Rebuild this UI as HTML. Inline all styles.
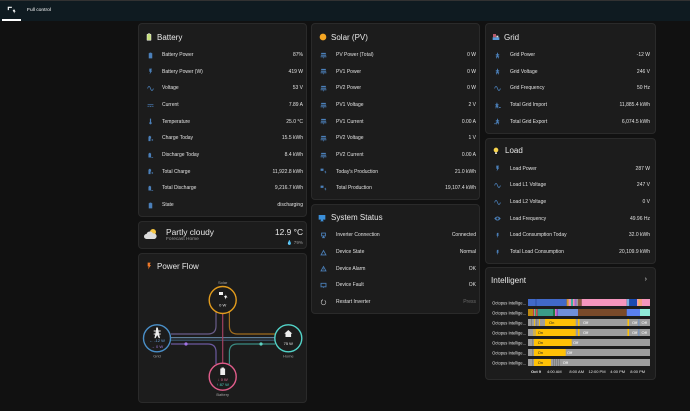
<!DOCTYPE html>
<html><head><meta charset="utf-8"><style>
*{margin:0;padding:0;box-sizing:border-box}
body{width:690px;height:411px;background:#111111;position:relative;overflow:hidden;font-family:"Liberation Sans",sans-serif;color:#e1e1e1}
.top{position:absolute;left:0;top:0;width:690px;height:21px;background:#0f1b21;border-top:1px solid #323232}
.card{position:absolute;background:#1c1c1c;border:1px solid #2a2a2a;border-radius:4px}
.ttl{position:absolute;font-size:8px;line-height:10px;color:#e8e8e8;white-space:nowrap}
.tic{position:absolute;width:8px;height:8px}
.rows{position:absolute;left:0;right:0}
.row{position:relative;height:16.67px;font-size:5px;white-space:nowrap}
.ic{position:absolute;top:4.8px;width:7px;height:7px;left:calc(var(--ix) - 3.5px)}
.lb{position:absolute;left:var(--lx);top:0;line-height:16.67px}
.v{position:absolute;right:var(--vr);top:0;line-height:16.67px}
.ic path{fill:#4b80ba}
</style></head><body>

<div class="top">
  <svg style="position:absolute;left:7px;top:5px" width="9" height="9" viewBox="0 0 24 24"><path style="fill:#fff" d="M2 2h11v3H5v6H2zM15 11h3V7l5 8h-3v5z"/></svg>
  <div style="position:absolute;left:27px;top:6px;font-size:4.9px;line-height:8px;color:#fff">Full control</div>
  <div style="position:absolute;left:2px;top:18px;width:19px;height:1.5px;background:#fff"></div>
</div>

<!-- Battery -->
<div class="card" style="left:138px;top:23px;width:169px;height:194px;--ix:11px;--lx:23px;--vr:3px">
  <svg class="tic" style="left:6px;top:9px" viewBox="0 0 24 24"><path style="fill:#c6e07a;stroke:#eee;stroke-width:1.5" d="M9 2h6v2h3v18H6V4h3z"/></svg>
  <div class="ttl" style="left:18px;top:8.5px">Battery</div>
  <div class="rows" style="top:23px">
    <div class="row"><svg class="ic" viewBox="0 0 24 24"><path d="M9 2h6v2h3v18H6V4h3z"/></svg><span class="lb">Battery Power</span><span class="v">87%</span></div>
    <div class="row"><svg class="ic" viewBox="0 0 24 24"><path d="M8 2h9l-3 7h4L9 22l2-9H8z"/></svg><span class="lb">Battery Power (W)</span><span class="v">419 W</span></div>
    <div class="row"><svg class="ic" viewBox="0 0 24 24"><path style="fill:none;stroke:#4b80ba;stroke-width:2.5" d="M2 12c3-9 7-9 10 0s7 9 10 0"/></svg><span class="lb">Voltage</span><span class="v">53 V</span></div>
    <div class="row"><svg class="ic" viewBox="0 0 24 24"><path d="M2 8h20v2.5H2zM2 14h4v2.5H2zM9 14h6v2.5H9zM18 14h4v2.5h-4z"/></svg><span class="lb">Current</span><span class="v">7.89 A</span></div>
    <div class="row"><svg class="ic" viewBox="0 0 24 24"><path d="M10 2h4v12a4 4 0 1 1-4 0z"/></svg><span class="lb">Temperature</span><span class="v">25.0 °C</span></div>
    <div class="row"><svg class="ic" viewBox="0 0 24 24"><path d="M7 3h5v2h2v7h-2v9H5V5h2zM15 16h2v-2h2v2h2v2h-2v2h-2v-2h-2z"/></svg><span class="lb">Charge Today</span><span class="v">15.5 kWh</span></div>
    <div class="row"><svg class="ic" viewBox="0 0 24 24"><path d="M7 3h5v2h2v14H5V5h2zM15 18h6v2h-6z"/></svg><span class="lb">Discharge Today</span><span class="v">8.4 kWh</span></div>
    <div class="row"><svg class="ic" viewBox="0 0 24 24"><path d="M7 3h5v2h2v7h-2v9H5V5h2zM15 16h2v-2h2v2h2v2h-2v2h-2v-2h-2z"/></svg><span class="lb">Total Charge</span><span class="v">11,922.8 kWh</span></div>
    <div class="row"><svg class="ic" viewBox="0 0 24 24"><path d="M7 3h5v2h2v14H5V5h2zM15 18h6v2h-6z"/></svg><span class="lb">Total Discharge</span><span class="v">9,216.7 kWh</span></div>
    <div class="row"><svg class="ic" viewBox="0 0 24 24"><path d="M9 2h6v2h3v18H6V4h3z"/></svg><span class="lb">State</span><span class="v">discharging</span></div>
  </div>
</div>

<!-- Weather -->
<div class="card" style="left:138px;top:221px;width:169px;height:28px">
  <svg style="position:absolute;left:4px;top:6px" width="15" height="13" viewBox="0 0 30 26"><circle cx="20" cy="8" r="6" fill="#f5c542"/><path style="fill:#dcdcdc" d="M7 22a5 5 0 0 1 0-10 7 7 0 0 1 13-1 5.5 5.5 0 0 1 3 11z"/></svg>
  <div style="position:absolute;left:27px;top:5px;font-size:8.4px;line-height:10px;color:#e8e8e8">Partly cloudy</div>
  <div style="position:absolute;left:27px;top:14.5px;font-size:4.8px;line-height:6px;color:#9a9a9a">Forecast Home</div>
  <div style="position:absolute;right:3px;top:5px;font-size:8.4px;line-height:10px;color:#e8e8e8">12.9 °C</div>
  <div style="position:absolute;right:3px;top:17.5px;font-size:4.6px;line-height:6px;color:#9a9a9a">💧 79%</div>
</div>

<!-- Power Flow -->
<div class="card" style="left:138px;top:253px;width:169px;height:150px">
  <svg class="tic" style="left:6px;top:8px" viewBox="0 0 24 24"><path style="fill:#f07a2a" d="M8 2h9l-3 7h4L9 22l2-9H8z"/></svg>
  <div class="ttl" style="left:18px;top:7.5px">Power Flow</div>
</div>

<!-- Solar -->
<div class="card" style="left:311px;top:23px;width:169px;height:177px;--ix:11.7px;--lx:24px;--vr:3px">
  <svg class="tic" style="left:7px;top:9px" viewBox="0 0 24 24"><circle cx="12" cy="12" r="10" fill="#f5a623"/></svg>
  <div class="ttl" style="left:19px;top:8.5px">Solar (PV)</div>
  <div class="rows" style="top:23px">
    <div class="row"><svg class="ic" viewBox="0 0 24 24"><path d="M4 3h16v4H4zM3 9h18v4H3zM2 15h20v3H2zM11 18h2v4h-2z"/></svg><span class="lb">PV Power (Total)</span><span class="v">0 W</span></div>
    <div class="row"><svg class="ic" viewBox="0 0 24 24"><path d="M4 3h16v4H4zM3 9h18v4H3zM2 15h20v3H2zM11 18h2v4h-2z"/></svg><span class="lb">PV1 Power</span><span class="v">0 W</span></div>
    <div class="row"><svg class="ic" viewBox="0 0 24 24"><path d="M4 3h16v4H4zM3 9h18v4H3zM2 15h20v3H2zM11 18h2v4h-2z"/></svg><span class="lb">PV2 Power</span><span class="v">0 W</span></div>
    <div class="row"><svg class="ic" viewBox="0 0 24 24"><path d="M4 3h16v4H4zM3 9h18v4H3zM2 15h20v3H2zM11 18h2v4h-2z"/></svg><span class="lb">PV1 Voltage</span><span class="v">2 V</span></div>
    <div class="row"><svg class="ic" viewBox="0 0 24 24"><path d="M4 3h16v4H4zM3 9h18v4H3zM2 15h20v3H2zM11 18h2v4h-2z"/></svg><span class="lb">PV1 Current</span><span class="v">0.00 A</span></div>
    <div class="row"><svg class="ic" viewBox="0 0 24 24"><path d="M4 3h16v4H4zM3 9h18v4H3zM2 15h20v3H2zM11 18h2v4h-2z"/></svg><span class="lb">PV2 Voltage</span><span class="v">1 V</span></div>
    <div class="row"><svg class="ic" viewBox="0 0 24 24"><path d="M4 3h16v4H4zM3 9h18v4H3zM2 15h20v3H2zM11 18h2v4h-2z"/></svg><span class="lb">PV2 Current</span><span class="v">0.00 A</span></div>
    <div class="row"><svg class="ic" viewBox="0 0 24 24"><path d="M2 2h10v8H2zM15 12h3V8l4 7h-3v5z"/></svg><span class="lb">Today's Production</span><span class="v">21.0 kWh</span></div>
    <div class="row"><svg class="ic" viewBox="0 0 24 24"><path d="M2 2h10v8H2zM15 12h3V8l4 7h-3v5z"/></svg><span class="lb">Total Production</span><span class="v">19,107.4 kWh</span></div>
  </div>
</div>

<!-- System Status -->
<div class="card" style="left:311px;top:204px;width:169px;height:110px;--ix:11.7px;--lx:24px;--vr:3px">
  <svg class="tic" style="left:6px;top:9px" viewBox="0 0 24 24"><path style="fill:#3b8fd9" d="M2 3h20v14H2zM9 17h6v3h2v2H7v-2h2z"/></svg>
  <div class="ttl" style="left:19px;top:8px">System Status</div>
  <div class="rows" style="top:22.3px">
    <div class="row"><svg class="ic" viewBox="0 0 24 24"><path d="M4 2h16v13H4zM7 5v7h10V5zM10 15h4v3h3v3H7v-3h3z"/></svg><span class="lb">Inverter Connection</span><span class="v">Connected</span></div>
    <div class="row"><svg class="ic" viewBox="0 0 24 24"><path fill-rule="evenodd" d="M12 2L1 22h22zM12 8l6 11H6z"/></svg><span class="lb">Device State</span><span class="v">Normal</span></div>
    <div class="row"><svg class="ic" viewBox="0 0 24 24"><path fill-rule="evenodd" d="M12 2L1 22h22zM12 8l6 11H6zM11 11h2v5h-2z"/></svg><span class="lb">Device Alarm</span><span class="v">OK</span></div>
    <div class="row"><svg class="ic" viewBox="0 0 24 24"><path fill-rule="evenodd" d="M2 3h20v15h-8l-2 3-2-3H2zM5 6v9h14V6z"/></svg><span class="lb">Device Fault</span><span class="v">OK</span></div>
    <div class="row"><svg class="ic" viewBox="0 0 24 24"><path style="fill:none;stroke:#bdbdbd;stroke-width:2.2" d="M16 5a8 8 0 1 1-8 0M8 5V1M8 5H4"/></svg><span class="lb">Restart Inverter</span><span class="v" style="color:#6a6a6a">Press</span></div>
  </div>
</div>

<!-- Grid -->
<div class="card" style="left:485px;top:23px;width:171px;height:111px;--ix:11.7px;--lx:24px;--vr:5px">
  <svg class="tic" style="left:6px;top:9px" viewBox="0 0 24 24"><path style="fill:#b85a6a" d="M3 3h9v10H3z"/><path style="fill:#5a9ad8" d="M2 13h20v8H2z"/><path style="fill:#ddd" d="M13 8h6v5h-6z"/></svg>
  <div class="ttl" style="left:18px;top:8.5px">Grid</div>
  <div class="rows" style="top:23px">
    <div class="row"><svg class="ic" viewBox="0 0 24 24"><path d="M11 2h2l1 5h4v2h-3.6l.8 4H18v2h-2.4l1.4 7h-2.2L12 16l-2.8 6H7l1.4-7H6v-2h2.8l.8-4H6V7h4z"/></svg><span class="lb">Grid Power</span><span class="v">-12 W</span></div>
    <div class="row"><svg class="ic" viewBox="0 0 24 24"><path d="M11 2h2l1 5h4v2h-3.6l.8 4H18v2h-2.4l1.4 7h-2.2L12 16l-2.8 6H7l1.4-7H6v-2h2.8l.8-4H6V7h4z"/></svg><span class="lb">Grid Voltage</span><span class="v">246 V</span></div>
    <div class="row"><svg class="ic" viewBox="0 0 24 24"><path style="fill:none;stroke:#4b80ba;stroke-width:2.5" d="M2 12c3-9 7-9 10 0s7 9 10 0"/></svg><span class="lb">Grid Frequency</span><span class="v">50 Hz</span></div>
    <div class="row"><svg class="ic" viewBox="0 0 24 24"><path d="M9 2h2l1 5h4v2h-3.6l.8 4H16v2h-2.4l1.4 7h-2.2L10 16l-2.8 6H5l1.4-7H4v-2h2.8l.8-4H4V7h4zM17 17h6v3h-6z"/></svg><span class="lb">Total Grid Import</span><span class="v">11,885.4 kWh</span></div>
    <div class="row"><svg class="ic" viewBox="0 0 24 24"><path d="M11 2h2l1 5h4v2h-3.6l.8 4H18v2h-2.4l1.4 7h-2.2L12 16l-2.8 6H7l1.4-7H6v-2h2.8l.8-4H6V7h4zM1 18h5v3H1z"/></svg><span class="lb">Total Grid Export</span><span class="v">6,074.5 kWh</span></div>
  </div>
</div>

<!-- Load -->
<div class="card" style="left:485px;top:138px;width:171px;height:126px;--ix:11.7px;--lx:24px;--vr:5px">
  <svg class="tic" style="left:6px;top:7.5px" viewBox="0 0 24 24"><circle cx="12" cy="9" r="7" fill="#f8d44c"/><path style="fill:#ccc" d="M9 16h6v5H9z"/></svg>
  <div class="ttl" style="left:19px;top:6.5px">Load</div>
  <div class="rows" style="top:21.7px">
    <div class="row"><svg class="ic" viewBox="0 0 24 24"><path d="M8 2h9l-3 7h4L9 22l2-9H8z"/></svg><span class="lb">Load Power</span><span class="v">287 W</span></div>
    <div class="row"><svg class="ic" viewBox="0 0 24 24"><path style="fill:none;stroke:#4b80ba;stroke-width:2.5" d="M2 12c3-9 7-9 10 0s7 9 10 0"/></svg><span class="lb">Load L1 Voltage</span><span class="v">247 V</span></div>
    <div class="row"><svg class="ic" viewBox="0 0 24 24"><path style="fill:none;stroke:#4b80ba;stroke-width:2.5" d="M2 12c3-9 7-9 10 0s7 9 10 0"/></svg><span class="lb">Load L2 Voltage</span><span class="v">0 V</span></div>
    <div class="row"><svg class="ic" viewBox="0 0 24 24"><path fill-rule="evenodd" d="M12 5C6 5 1 12 1 12s5 7 11 7 11-7 11-7-5-7-11-7zm0 11a4 4 0 1 1 0-8 4 4 0 0 1 0 8z"/></svg><span class="lb">Load Frequency</span><span class="v">49.96 Hz</span></div>
    <div class="row"><svg class="ic" viewBox="0 0 24 24"><path d="M10 3h6l-2 6h3l-7 12 1.5-8H9z"/></svg><span class="lb">Load Consumption Today</span><span class="v">32.0 kWh</span></div>
    <div class="row"><svg class="ic" viewBox="0 0 24 24"><path d="M10 3h6l-2 6h3l-7 12 1.5-8H9z"/></svg><span class="lb">Total Load Consumption</span><span class="v">20,109.9 kWh</span></div>
  </div>
</div>

<!-- Intelligent -->
<div class="card" style="left:485px;top:267px;width:171px;height:113px">
  <div class="ttl" style="left:5px;top:7.5px;font-size:8.2px">Intelligent</div>
  <div style="position:absolute;right:8px;top:7px;font-size:7px;line-height:10px;color:#ddd">›</div>
</div>

<svg style="position:absolute;left:0;top:0" width="690" height="411" viewBox="0 0 690 411" font-family="Liberation Sans, sans-serif">
  <!-- power flow lines -->
  <g fill="none" stroke-width="1.2">
    <path d="M216 312V326Q216 334 208 334H171" stroke="#6a5d8a"/>
    <path d="M229.4 312V326Q229.4 334 237.4 334H275" stroke="#a06c1e"/>
    <path d="M171 337.6H274.5" stroke="#5e7d98"/>
    <path d="M171 340.2H274.5" stroke="#3c5a72"/>
    <path d="M222.7 314V362.7" stroke="#a2405f"/>
    <path d="M171 344H208Q216 344 216 352V364" stroke="#6c5aa0"/>
    <path d="M229.4 364V352Q229.4 344 237.4 344H275" stroke="#3a8a82"/>
  </g>
  <circle cx="186" cy="344" r="1.6" fill="#a374e6"/>
  <circle cx="261" cy="344" r="1.6" fill="#5fd4c4"/>
  <g stroke-width="1.4" fill="#1c1c1c">
    <circle cx="222.7" cy="300" r="13.5" stroke="#e39c1c"/>
    <circle cx="157" cy="338.3" r="13.5" stroke="#4a8fc8"/>
    <circle cx="288.3" cy="338.3" r="13.5" stroke="#52d3c8"/>
    <circle cx="222.7" cy="376.7" r="13.5" stroke="#e05c8a"/>
  </g>
  <g font-size="4" text-anchor="middle">
    <text x="222.7" y="283.8" fill="#a0a0a0">Solar</text>
    <text x="157" y="357.5" fill="#a0a0a0">Grid</text>
    <text x="288.3" y="357.5" fill="#a0a0a0">Home</text>
    <text x="222.7" y="395.8" fill="#a0a0a0">Battery</text>
    <text x="222.7" y="306.6" fill="#e8e8e8">0 W</text>
    <text x="157" y="341.8" fill="#6aa4e0">← -12 W</text>
    <text x="157" y="347.8" fill="#a07ee0">→ 0 W</text>
    <text x="288.3" y="345.2" fill="#e8e8e8">75 W</text>
    <text x="222.7" y="380.8" fill="#e46a96">↓ 0 W</text>
    <text x="222.7" y="386.2" fill="#4fd0c0">↑ 87 W</text>
  </g>
  <!-- flow icons -->
  <path style="fill:#eee" d="M219 292h4v3h-4zM224 296h1.5v-1.5l2 3h-1.5v2z"/>
  <path style="fill:#eee" d="M156.2 327.5h1.6l.6 3h2.3v1h-2.1l.4 2h1.7v1h-1.5l.8 3.6h-1.2l-1.6-3-1.6 3h-1.2l.8-3.6h-1.5v-1h1.7l.4-2h-2.1v-1h2.3z"/>
  <path style="fill:#eee" d="M288.3 330l4 3.6h-1.2v3.4h-5.6v-3.4h-1.2z"/>
  <path style="fill:#eee" d="M221.5 367.5h2.4v1h1.2v6.5h-4.8v-6.5h1.2z"/>

  <!-- timeline -->
  <g font-size="4.1" fill="#e0e0e0" text-anchor="end">
    <text x="526" y="304.5">Octopus Intellige...</text>
    <text x="526" y="314.5">Octopus Intellige...</text>
    <text x="526" y="324.5">Octopus Intellige...</text>
    <text x="526" y="334.5">Octopus Intellige...</text>
    <text x="526" y="344.5">Octopus Intellige...</text>
    <text x="526" y="354.5">Octopus Intellige...</text>
    <text x="526" y="364.5">Octopus Intellige...</text>
  </g>
  <!-- row1 -->
  <g>
    <rect x="528" y="299" width="38.7" height="7" fill="#4169c8"/>
    <rect x="535.6" y="299" width="0.8" height="7" fill="#2a4a9a"/>
    <rect x="566.7" y="299" width="1" height="7" fill="#e89a30"/>
    <rect x="567.7" y="299" width="1" height="7" fill="#f0c040"/>
    <rect x="568.7" y="299" width="2.3" height="7" fill="#f48fb1"/>
    <rect x="571" y="299" width="2" height="7" fill="#40b0a0"/>
    <rect x="573" y="299" width="1.5" height="7" fill="#f48fb1"/>
    <rect x="574.5" y="299" width="2" height="7" fill="#a070d0"/>
    <rect x="576.5" y="299" width="1.5" height="7" fill="#9e9e9e"/>
    <rect x="578" y="299" width="3.7" height="7" fill="#8b5a40"/>
    <rect x="581.7" y="299" width="45" height="7" fill="#f596be"/>
    <rect x="626.7" y="299" width="2.6" height="7" fill="#7aaee0"/>
    <rect x="629.3" y="299" width="7.7" height="7" fill="#1a4ab0"/>
    <rect x="637" y="299" width="1.5" height="7" fill="#f596be"/>
    <rect x="638.5" y="299" width="1" height="7" fill="#f0c040"/>
    <rect x="639.5" y="299" width="2.5" height="7" fill="#f4a080"/>
    <rect x="642" y="299" width="8" height="7" fill="#f596be"/>
  </g>
  <!-- row2 -->
  <g>
    <rect x="528" y="309" width="5" height="7" fill="#c08a10"/>
    <rect x="533" y="309" width="1" height="7" fill="#c04040"/>
    <rect x="534" y="309" width="1" height="7" fill="#9e9e9e"/>
    <rect x="535" y="309" width="1" height="7" fill="#40a060"/>
    <rect x="536" y="309" width="1.7" height="7" fill="#d05050"/>
    <rect x="537.7" y="309" width="15.6" height="7" fill="#3a9c88"/>
    <rect x="553.3" y="309" width="1.7" height="7" fill="#1a7a40"/>
    <rect x="555" y="309" width="1.5" height="7" fill="#e070c0"/>
    <rect x="556.5" y="309" width="1.5" height="7" fill="#8050c0"/>
    <rect x="558" y="309" width="20" height="7" fill="#7090d8"/>
    <rect x="578" y="309" width="48.7" height="7" fill="#7a4a2a"/>
    <rect x="626.7" y="309" width="13.3" height="7" fill="#5a80f0"/>
    <rect x="640" y="309" width="10" height="7" fill="#90ecd8"/>
  </g>
  <!-- rows 3-7 base -->
  <g fill="#9e9e9e">
    <rect x="528" y="319" width="122" height="7"/>
    <rect x="528" y="329" width="122" height="7"/>
    <rect x="528" y="339" width="122" height="7"/>
    <rect x="528" y="349" width="122" height="7"/>
    <rect x="528" y="359" width="122" height="7"/>
  </g>
  <g fill="#ffc107">
    <rect x="534" y="319" width="0.8" height="7"/>
    <rect x="539" y="319" width="0.8" height="7"/>
    <rect x="545" y="319" width="30.7" height="7"/>
    <rect x="578" y="319" width="1.5" height="7"/>
    <rect x="627.5" y="319" width="1.5" height="7"/>
    <rect x="533.5" y="329" width="1" height="7"/>
    <rect x="535.5" y="329" width="40.2" height="7"/>
    <rect x="578" y="329" width="1.5" height="7"/>
    <rect x="627.5" y="329" width="1.5" height="7"/>
    <rect x="534" y="339" width="37.7" height="7"/>
    <rect x="534" y="349" width="31.7" height="7"/>
    <rect x="534" y="359" width="17" height="7"/>
  </g>
  <g fill="#707070">
    <rect x="531" y="319" width="0.6" height="7"/>
    <rect x="536.5" y="319" width="0.6" height="7"/>
    <rect x="532.5" y="339" width="0.6" height="7"/>
    <rect x="532.5" y="349" width="0.6" height="7"/>
    <rect x="532.5" y="359" width="0.6" height="7"/>
    <rect x="553" y="359" width="0.6" height="7"/>
    <rect x="555" y="359" width="0.6" height="7"/>
    <rect x="557" y="359" width="0.6" height="7"/>
    <rect x="559" y="359" width="0.6" height="7"/>
  </g>
  <rect x="638.5" y="319" width="0.8" height="7" fill="#5a8ad0"/>
  <rect x="638.5" y="329" width="0.8" height="7" fill="#5a8ad0"/>
  <g font-size="4">
    <text x="549" y="324.2" fill="#222">On</text>
    <text x="537.7" y="334.2" fill="#222">On</text>
    <text x="537.7" y="344.2" fill="#222">On</text>
    <text x="537.7" y="354.2" fill="#222">On</text>
    <text x="537.7" y="364.2" fill="#222">On</text>
    <g fill="#fff">
      <text x="583" y="324.2">Off</text><text x="632" y="324.2">Off</text><text x="641.5" y="324.2">Off</text>
      <text x="583" y="334.2">Off</text><text x="632" y="334.2">Off</text><text x="641.5" y="334.2">Off</text>
      <text x="573" y="344.2">Off</text>
      <text x="567" y="354.2">Off</text>
      <text x="562.7" y="364.2">Off</text>
    </g>
  </g>
  <g font-size="4" fill="#e8e8e8" text-anchor="middle">
    <text x="536" y="373.2" font-weight="bold">Oct 9</text>
    <text x="554.3" y="373.2">4:00 AM</text>
    <text x="576.7" y="373.2">8:00 AM</text>
    <text x="597" y="373.2">12:00 PM</text>
    <text x="617.7" y="373.2">4:00 PM</text>
    <text x="637.7" y="373.2">8:00 PM</text>
  </g>
</svg>
</body></html>
